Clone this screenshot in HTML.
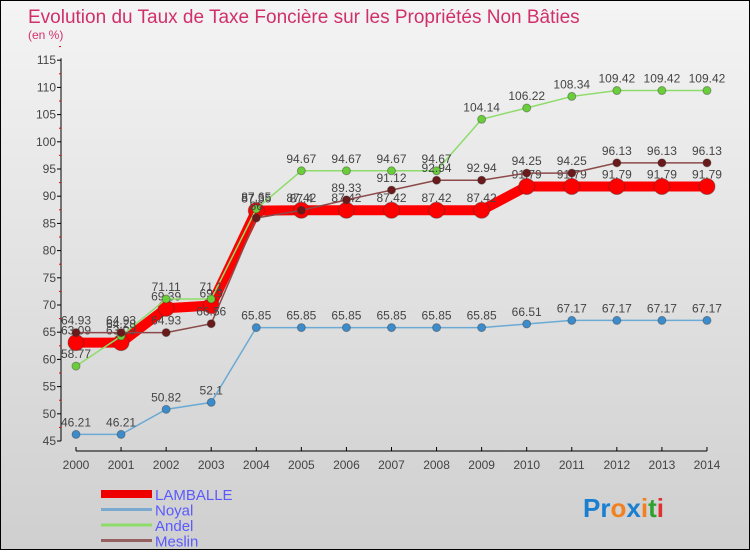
<!DOCTYPE html>
<html><head><meta charset="utf-8"><style>
body{margin:0;width:750px;height:550px;overflow:hidden;font-family:"Liberation Sans",sans-serif}
#wrap{position:relative;width:748px;height:548px;border:1px solid #000;background:linear-gradient(#f4f4f4,#cfcfcf)}
</style></head><body>
<div id="wrap">
<svg id="chart" width="748" height="548"></svg>
</div>
<script>
const years=[2000,2001,2002,2003,2004,2005,2006,2007,2008,2009,2010,2011,2012,2013,2014];
const lamballe=[63.09,63.09,69.39,69.9,87.35,87.42,87.42,87.42,87.42,87.42,91.79,91.79,91.79,91.79,91.79];
const noyal=[46.21,46.21,50.82,52.1,65.85,65.85,65.85,65.85,65.85,65.85,66.51,67.17,67.17,67.17,67.17];
const andel=[58.77,64.28,71.11,71.1,87.65,94.67,94.67,94.67,94.67,104.14,106.22,108.34,109.42,109.42,109.42];
const meslin=[64.93,64.93,64.93,66.56,86,87.4,89.33,91.12,92.94,92.94,94.25,94.25,96.13,96.13,96.13];
const yTicks=[45,50,55,60,65,70,75,80,85,90,95,100,105,110,115];
const NS='http://www.w3.org/2000/svg';
const svg=document.getElementById('chart');
const X=i=>75+i*45.07;
const Y=v=>440-(v-45)*5.44;
function mk(t,a,p){const e=document.createElementNS(NS,t);for(const k in a)e.setAttribute(k,a[k]);(p||svg).appendChild(e);return e;}
let t=mk('text',{x:27,y:22,'font-size':19,fill:'#d0306a'});t.textContent='Evolution du Taux de Taxe Foncière sur les Propriétés Non Bâties';


t=mk('text',{x:27,y:38,'font-size':12,fill:'#d0306a'});t.textContent='(en %)';


let ax=mk('line',{x1:60,y1:Y(115)-2,x2:60,y2:Y(45),stroke:'#000'});


ax=mk('line',{x1:X(0),y1:450,x2:X(14),y2:450,stroke:'#000'});


yTicks.forEach(v=>{mk('line',{x1:56,x2:60,y1:Y(v),y2:Y(v),stroke:'#000'});
 mk('line',{x1:58,x2:60,y1:Y(v+2.5),y2:Y(v+2.5),stroke:'#e00'});
 const l=mk('text',{x:55,y:Y(v)+4,'font-size':12,fill:'#444','text-anchor':'end'});l.textContent=v;
 
 });
years.forEach((yr,i)=>{mk('line',{x1:X(i),x2:X(i),y1:446,y2:450,stroke:'#000'});
 const l=mk('text',{x:X(i),y:468,'font-size':12,fill:'#444','text-anchor':'middle'});l.textContent=yr;
 
 });
function series(d,col,w,r,name,fill){
 const g=mk('g',{});
 
 
 mk('polyline',{points:d.map((v,i)=>X(i)+','+Y(v)).join(' '),fill:'none',stroke:col,'stroke-width':w},g);
 d.forEach((v,i)=>{const c=mk('circle',{cx:X(i),cy:Y(v),r:r,fill:fill,stroke:'#333','stroke-opacity':.4},g);
  
  
  const l=mk('text',{x:X(i),y:Y(v)-8,'font-size':12,fill:'#444','text-anchor':'middle'},g);l.textContent=v;
  
  });
}
series(lamballe,'#f00',10,8,'lamballe','#f00');
series(noyal,'#6aaad4',1.5,4,'noyal','#3c8ccc');
series(andel,'#8ddc6a',1.5,4,'andel','#6acd3a');
series(meslin,'#8a4a4a',1.5,4,'meslin','#6a1a1a');
const leg=[['LAMBALLE','#e00',8],['Noyal','#7aaad0',3],['Andel','#8ddc6a',3],['Meslin','#946060',3]];
leg.forEach((e,i)=>{const y=493+i*15.5;
 const g=mk('g',{});
 
 
 mk('line',{x1:100,x2:151,y1:y,y2:y,stroke:e[1],'stroke-width':e[2]},g);
 const l=mk('text',{x:154,y:y+6,'font-size':15,fill:'#5a5aff'},g);l.textContent=e[0];});
const lg=mk('text',{x:582,y:516,'font-size':26,'font-weight':'bold'});


[['Pr','#1a7fd0'],['o','#f08020'],['x','#1a7fd0'],['i','#f08020'],['t','#30a030'],['i','#e03030']].forEach(p=>{const s=mk('tspan',{fill:p[1]},lg);s.textContent=p[0];});
</script>
</body></html>
